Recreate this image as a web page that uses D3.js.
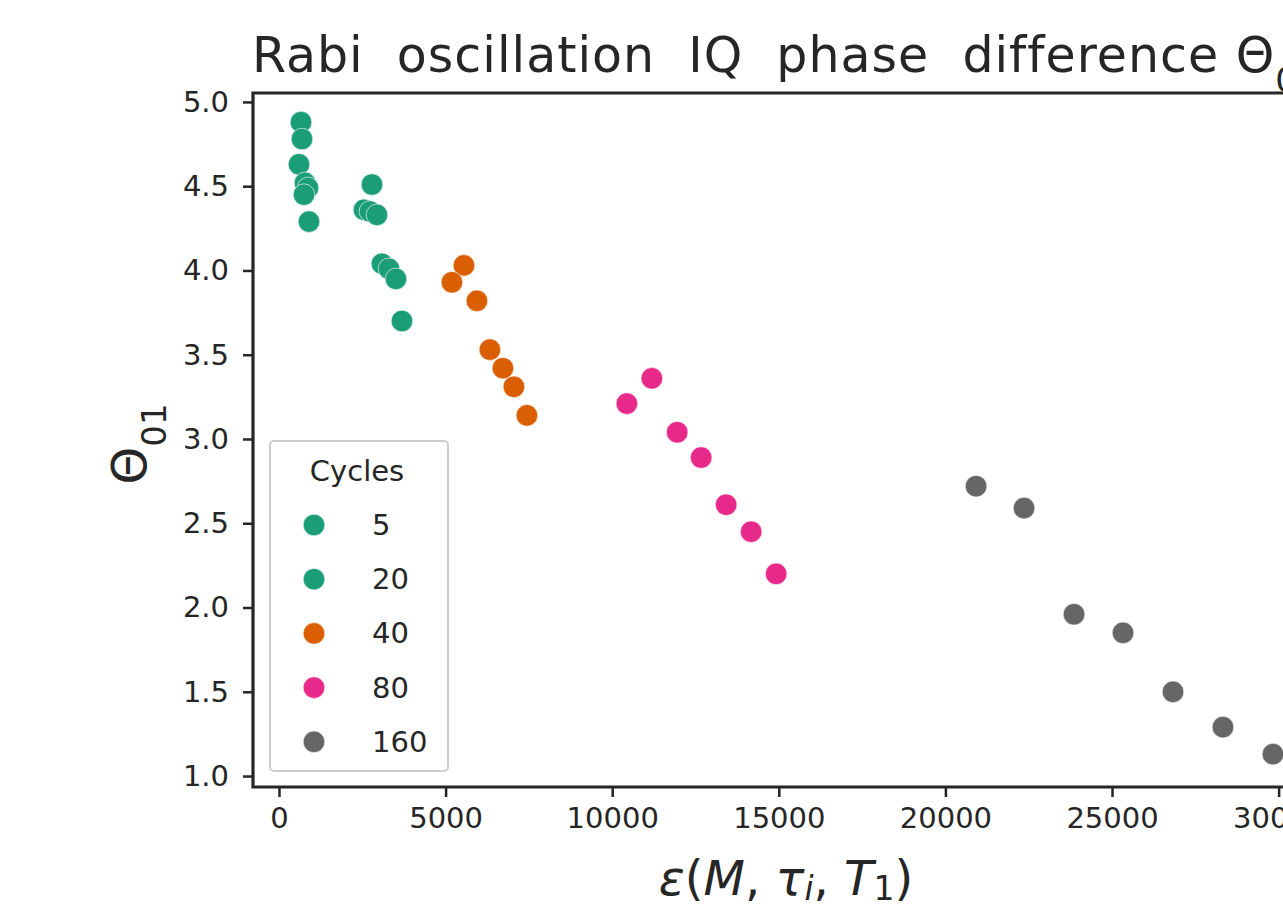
<!DOCTYPE html>
<html>
<head>
<meta charset="utf-8">
<script src="https://cdn.jsdelivr.net/npm/d3@7/dist/d3.min.js"></script>
<style>
  html, body { margin: 0; padding: 0; background: #fff; overflow: hidden; }
  svg text { font-family: "DejaVu Sans", sans-serif; fill: #262626; }
</style>
</head>
<body>
<div id="chart"></div>
<script>
// legend groups, in the order the legend shows them
const cycles = ['5', '20', '40', '80', '160'];
const cycleColors = ['#1b9e77', '#1b9e77', '#d95f02', '#e7298a', '#666666'];

// epsilon(M, tau_i, T1) values per group
const eps5 = [660, 690, 600, 780, 870, 750, 900];
const theta5 = [4.88, 4.78, 4.63, 4.52, 4.49, 4.45, 4.29];
const eps20 = [2790, 2550, 2730, 2940, 3090, 3300, 3510, 3690];
const theta20 = [4.51, 4.36, 4.35, 4.33, 4.04, 4.01, 3.95, 3.70];
const eps40 = [5550, 5190, 5940, 6330, 6720, 7050, 7440];
const theta40 = [4.03, 3.93, 3.82, 3.53, 3.42, 3.31, 3.14];
const eps80 = [11190, 10440, 11950, 12670, 13420, 14170, 14920];
const theta80 = [3.36, 3.21, 3.04, 2.89, 2.61, 2.45, 2.20];
const eps160 = [20920, 22360, 23860, 25330, 26830, 28330, 29830];
const theta160 = [2.72, 2.59, 1.96, 1.85, 1.50, 1.29, 1.13];

const xTicks = [0, 5000, 10000, 15000, 20000, 25000, 30000];
const yTicks = [1.0, 1.5, 2.0, 2.5, 3.0, 3.5, 4.0, 4.5, 5.0];

const groups = [
  { name: '5', eps: eps5, theta: theta5 },
  { name: '20', eps: eps20, theta: theta20 },
  { name: '40', eps: eps40, theta: theta40 },
  { name: '80', eps: eps80, theta: theta80 },
  { name: '160', eps: eps160, theta: theta160 }
];

let width = 1283, height = 908;
let axLeft = 253, axTop = 93, axRight = 1319, axBottom = 787;
let ink = '#262626';

let svg = d3.select('#chart')
  .append('svg')
  .attr('width', width)
  .attr('height', height)
  .style('background-color', '#fff');

let color = d3.scaleOrdinal().domain(cycles).range(cycleColors);

let x = d3.scaleLinear().domain([-780, 31212]).range([axLeft, axRight]);
let y = d3.scaleLinear().domain([0.935, 5.053]).range([axBottom, axTop]);

// axes
let xAxis = svg.append('g')
  .attr('transform', `translate(0,${axBottom})`)
  .call(d3.axisBottom(x).tickValues(xTicks).tickFormat(d3.format('d')).tickSizeOuter(0).tickSize(10).tickPadding(10));

let yAxis = svg.append('g')
  .attr('transform', `translate(${axLeft},0)`)
  .call(d3.axisLeft(y).tickValues(yTicks).tickFormat(d3.format('.1f')).tickSizeOuter(0).tickSize(10).tickPadding(14));

[xAxis, yAxis].forEach(g => {
  g.select('.domain').remove();
  g.selectAll('.tick line').attr('stroke', ink).attr('stroke-width', 2.5);
  g.selectAll('.tick text').attr('fill', ink).style('font-size', '29px');
});

// spines (right one is off the picture)
svg.append('path')
  .attr('fill', 'none')
  .attr('stroke', ink)
  .attr('stroke-width', 3.2)
  .attr('d', d3.line()([[axRight, axTop], [axLeft, axTop], [axLeft, axBottom], [axRight, axBottom]]));

// points
let points = svg.append('g');
groups.forEach(gr => {
  points.append('g')
    .selectAll('circle')
    .data(gr.eps.map((e, i) => [e, gr.theta[i]]))
    .join('circle')
    .attr('cx', d => x(d[0]))
    .attr('cy', d => y(d[1]))
    .attr('r', 10.8)
    .attr('fill', color(gr.name))
    .attr('stroke', '#fff')
    .attr('stroke-width', 0.6);
});

// title
let title = svg.append('text')
  .attr('x', 252)
  .attr('y', 72)
  .attr('xml:space', 'preserve')
  .style('white-space', 'pre')
  .style('font-size', '49px')
  .style('letter-spacing', '1px')
  .attr('fill', ink);
title.append('tspan').text('Rabi  oscillation  IQ  phase  difference \u0398');
title.append('tspan').attr('baseline-shift', 'sub').style('font-size', '34px').text('01');

// y label
let ylab = svg.append('text')
  .attr('transform', 'translate(146,444) rotate(-90)')
  .attr('text-anchor', 'middle')
  .style('font-size', '48px')
  .attr('fill', ink);
ylab.append('tspan').text('\u0398');
ylab.append('tspan').attr('baseline-shift', 'sub').style('font-size', '34px').text('01');

// x label, mathtext style
let xlab = svg.append('text')
  .attr('x', 786)
  .attr('y', 895)
  .attr('text-anchor', 'middle')
  .attr('xml:space', 'preserve')
  .style('white-space', 'pre')
  .style('font-size', '48px')
  .attr('fill', ink);
xlab.append('tspan').style('font-style', 'italic').text('\u03b5');
xlab.append('tspan').text('(');
xlab.append('tspan').style('font-style', 'italic').text('M');
xlab.append('tspan').text(', ');
xlab.append('tspan').style('font-style', 'italic').text('\u03c4');
xlab.append('tspan').style('font-style', 'italic').style('font-size', '33px').attr('dy', 5).text('i');
xlab.append('tspan').attr('dy', -5).text(', ');
xlab.append('tspan').style('font-style', 'italic').text('T');
xlab.append('tspan').style('font-size', '33px').attr('dy', 5).text('1');
xlab.append('tspan').attr('dy', -5).text(')');

// legend
let legend = svg.append('g');
legend.append('rect')
  .attr('x', 270).attr('y', 441)
  .attr('width', 178).attr('height', 330)
  .attr('rx', 4)
  .attr('fill', 'rgba(255,255,255,0.8)')
  .attr('stroke', '#cccccc')
  .attr('stroke-width', 2);

legend.append('text')
  .attr('x', 357).attr('y', 481)
  .attr('text-anchor', 'middle')
  .style('font-size', '29px')
  .attr('fill', ink)
  .text('Cycles');

cycles.forEach((c, i) => {
  let ly = 525 + i * 54.2;
  legend.append('circle')
    .attr('cx', 314).attr('cy', ly)
    .attr('r', 10.8)
    .attr('fill', color(c))
    .attr('stroke', '#fff')
    .attr('stroke-width', 0.6);
  legend.append('text')
    .attr('x', 372).attr('y', ly + 10)
    .style('font-size', '29px')
    .attr('fill', ink)
    .text(c);
});
</script>
</body>
</html>
